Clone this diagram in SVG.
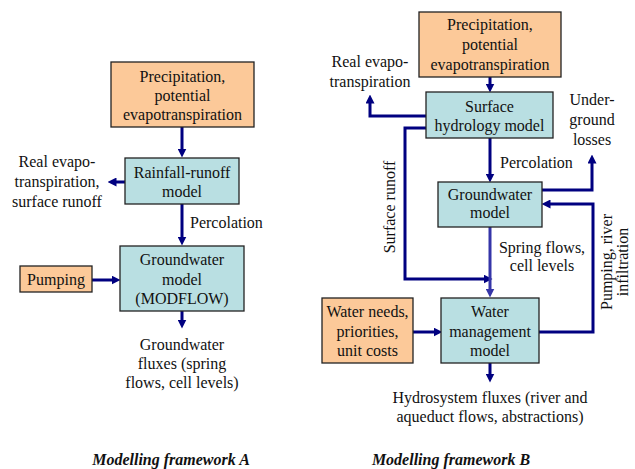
<svg xmlns="http://www.w3.org/2000/svg" width="635" height="469" viewBox="0 0 635 469">
<defs>
<style>
text{font-family:'Liberation Serif','DejaVu Serif',serif;font-size:16px;fill:#111;}
.m{text-anchor:middle;}
.cap{font-weight:bold;font-style:italic;}
.in{fill:#FCC999;stroke:#222;stroke-width:1.3;}
.mod{fill:#B9DFE2;stroke:#222;stroke-width:1.3;}
.c{fill:none;stroke:#000080;stroke-width:3;marker-end:url(#ah);}
.c2{fill:none;stroke:#3535A8;stroke-width:3;marker-end:url(#ah2);}
</style>
<marker id="ah" viewBox="0 0 10 10" refX="5" refY="5" markerWidth="9" markerHeight="9" markerUnits="userSpaceOnUse" orient="auto"><path d="M0,0 L10,5 L0,10 z" fill="#000080"/></marker>
<marker id="ah2" viewBox="0 0 10 10" refX="5" refY="5" markerWidth="9" markerHeight="9" markerUnits="userSpaceOnUse" orient="auto"><path d="M0,0 L10,5 L0,10 z" fill="#3535A8"/></marker>
</defs>
<rect width="635" height="469" fill="#fff"/>

<g id="connectors">
<path class="c" d="M182,127 V153"/>
<path class="c" d="M125,182 H112"/>
<path class="c" d="M182,204 V241"/>
<path class="c" d="M92,280 H116"/>
<path class="c" d="M182,311 V324"/>
<path class="c" d="M490,77 V88"/>
<path class="c" d="M426,116 H370 V99"/>
<path class="c" d="M426,128 H405 V279 H488"/>
<path class="c" d="M490,138 V178"/>
<path class="c2" d="M490,227 V293"/>
<path class="c" d="M542,190 H592 V159"/>
<path class="c" d="M539,332 H593 V204 H546"/>
<path class="c" d="M413,332 H438"/>
<path class="c" d="M490,363 V378"/>
</g>

<g id="A_precip"><rect class="in" x="111" y="62" width="143" height="65"/>
<text class="m" x="182.5" y="82">Precipitation,</text><text class="m" x="182.5" y="101">potential</text><text class="m" x="182.5" y="120">evapotranspiration</text></g>
<g id="A_rainfall"><rect class="mod" x="125" y="158" width="114" height="46"/>
<text class="m" x="182" y="178">Rainfall-runoff</text><text class="m" x="182" y="197">model</text></g>
<g id="A_realevap"><text class="m" x="57" y="167">Real evapo-</text><text class="m" x="57" y="187">transpiration,</text><text class="m" x="57" y="207">surface runoff</text></g>
<g id="A_perc"><text x="190" y="228">Percolation</text></g>
<g id="A_gw"><rect class="mod" x="120" y="246" width="124" height="65"/>
<text class="m" x="182" y="265">Groundwater</text><text class="m" x="182" y="285">model</text><text class="m" x="182" y="304">(MODFLOW)</text></g>
<g id="A_pumping"><rect class="in" x="20" y="266" width="72" height="26"/>
<text class="m" x="56" y="285">Pumping</text></g>
<g id="A_out"><text class="m" x="182" y="350">Groundwater</text><text class="m" x="182" y="369">fluxes (spring</text><text class="m" x="182" y="388">flows, cell levels)</text></g>

<g id="B_precip"><rect class="in" x="419" y="12" width="142" height="65"/>
<text class="m" x="490" y="30">Precipitation,</text><text class="m" x="490" y="50">potential</text><text class="m" x="490" y="70">evapotranspiration</text></g>
<g id="B_realevap"><text class="m" x="370" y="67">Real evapo-</text><text class="m" x="370" y="87">transpiration</text></g>
<g id="B_surface"><rect class="mod" x="426" y="92" width="127" height="46"/>
<text class="m" x="489.5" y="112">Surface</text><text class="m" x="489.5" y="131">hydrology model</text></g>
<g id="B_losses"><text class="m" x="592" y="105">Under-</text><text class="m" x="592" y="125">ground</text><text class="m" x="592" y="145">losses</text></g>
<g id="B_perc"><text x="500" y="168">Percolation</text></g>
<g id="B_runoff"><text class="m" transform="translate(390,207) rotate(-90)" x="0" y="5">Surface runoff</text></g>
<g id="B_gw"><rect class="mod" x="438" y="182" width="104" height="45"/>
<text class="m" x="490" y="200">Groundwater</text><text class="m" x="490" y="218">model</text></g>
<g id="B_spring"><text class="m" x="542" y="253">Spring flows,</text><text class="m" x="542" y="271">cell levels</text></g>
<g id="B_pumping"><g transform="translate(615,262) rotate(-90)"><text class="m" x="0" y="-3">Pumping, river</text><text class="m" x="0" y="13">infiltration</text></g></g>
<g id="B_needs"><rect class="in" x="322" y="298" width="91" height="65"/>
<text class="m" x="367.5" y="317">Water needs,</text><text class="m" x="367.5" y="337">priorities,</text><text class="m" x="367.5" y="356">unit costs</text></g>
<g id="B_wm"><rect class="mod" x="441" y="298" width="98" height="65"/>
<text class="m" x="490" y="317">Water</text><text class="m" x="490" y="337">management</text><text class="m" x="490" y="356">model</text></g>
<g id="B_out"><text class="m" x="490" y="403">Hydrosystem fluxes (river and</text><text class="m" x="490" y="422">aqueduct flows, abstractions)</text></g>

<g id="captions"><text class="m cap" x="171" y="465">Modelling framework A</text><text class="m cap" x="451" y="465">Modelling framework B</text></g>
</svg>
